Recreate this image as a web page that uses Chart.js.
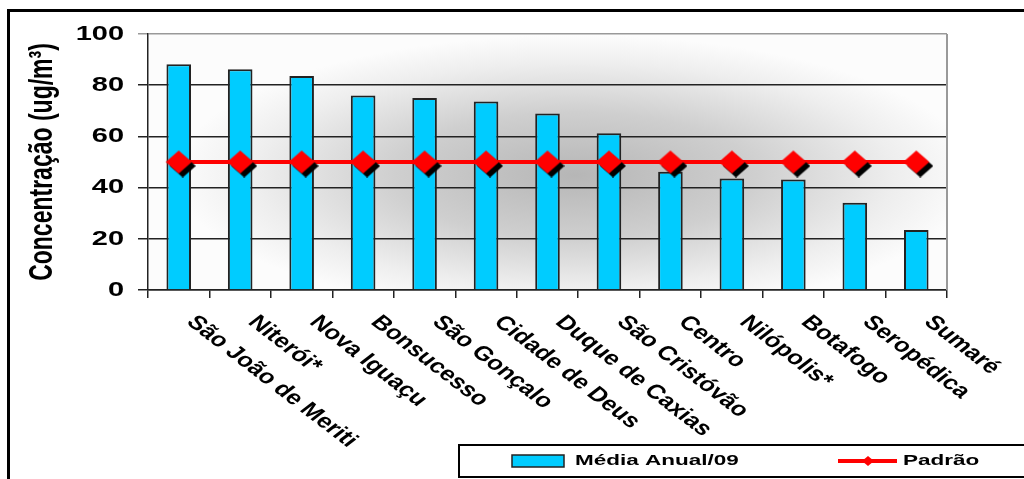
<!DOCTYPE html>
<html>
<head>
<meta charset="utf-8">
<script src="https://cdn.jsdelivr.net/npm/chart.js@4/dist/chart.umd.min.js"></script>
<style>
  body { margin: 0; background: #fff; }
  canvas { display: block; }
</style>
</head>
<body>
<canvas id="chart" width="1024" height="479"></canvas>
<script>
// stations, ordered as in the figure
var stations = ["São João de Meriti", "Niterói*", "Nova Iguaçu", "Bonsucesso", "São Gonçalo",
  "Cidade de Deus", "Duque de Caxias", "São Cristóvão", "Centro", "Nilópolis*",
  "Botafogo", "Seropédica", "Sumaré"];
// annual mean 2009 (ug/m3)
var mediaAnual = [88.2, 86.2, 83.6, 76.0, 75.0, 73.6, 68.9, 61.2, 46.2, 43.6, 43.2, 34.1, 23.4];
// standard (padrão) line
var padrao = [50, 50, 50, 50, 50, 50, 50, 50, 50, 50, 50, 50, 50];
var yTicks = [0, 20, 40, 60, 80, 100];
var yTitle = "Concentração (ug/m³)";
var legendBar = "Média Anual/09";
var legendLine = "Padrão";

var FONT = '"Liberation Sans", Arial, sans-serif';

// red diamond with hard black shadow, a bit wider than tall like the original
function diamondMarker(hw, hh, off) {
  var c = document.createElement('canvas');
  c.width = 2 * (hw + off);
  c.height = 2 * (hh + off);
  var g = c.getContext('2d');
  var cx = c.width / 2, cy = c.height / 2;
  function dia(x, y, col) {
    g.fillStyle = col;
    g.beginPath();
    g.moveTo(x, y - hh);
    g.lineTo(x + hw, y);
    g.lineTo(x, y + hh);
    g.lineTo(x - hw, y);
    g.closePath();
    g.fill();
  }
  dia(cx + off, cy + off, '#000');
  dia(cx, cy, '#ff0000');
  return c;
}
var marker = diamondMarker(13, 11.5, 4);

// text helper: the original picture is stretched horizontally
function stretchedText(ctx, txt, x, y, sx, rot, font, align, base) {
  ctx.save();
  ctx.translate(x, y);
  ctx.scale(sx, 1);
  if (rot) ctx.rotate(rot);
  ctx.font = font;
  ctx.textAlign = align;
  ctx.textBaseline = base;
  ctx.fillStyle = '#000';
  ctx.fillText(txt, 0, 0);
  ctx.restore();
}

var decorPlugin = {
  id: 'decor',
  beforeDraw: function(chart) {
    var ctx = chart.ctx, a = chart.chartArea;
    ctx.save();
    ctx.fillStyle = '#fff';
    ctx.fillRect(0, 0, chart.width, chart.height);
    // shaded plot background
    ctx.beginPath();
    ctx.rect(a.left, a.top, a.right - a.left, a.bottom - a.top);
    ctx.clip();
    var cx = 575, cy = 175, rx = 400, ry = 140;
    ctx.translate(cx, cy);
    ctx.scale(rx / ry, 1);
    var grd = ctx.createRadialGradient(0, 0, 0, 0, 0, ry);
    grd.addColorStop(0, '#b6b6b6');
    grd.addColorStop(0.45, '#cfcfcf');
    grd.addColorStop(0.8, '#eeeeee');
    grd.addColorStop(1, '#fcfcfc');
    ctx.fillStyle = '#fcfcfc';
    ctx.fillRect(-2000, -2000, 4000, 4000);
    ctx.fillStyle = grd;
    ctx.fillRect(-ry * 3, -ry * 3, ry * 6, ry * 6);
    ctx.restore();
  },
  afterDraw: function(chart) {
    var ctx = chart.ctx, a = chart.chartArea;
    var xs = chart.scales.x, ys = chart.scales.y;
    ctx.save();
    // right edge of plot
    ctx.strokeStyle = '#999';
    ctx.lineWidth = 2;
    ctx.beginPath();
    ctx.moveTo(a.right, a.top);
    ctx.lineTo(a.right, a.bottom);
    ctx.stroke();

    // y tick labels
    yTicks.forEach(function(v) {
      stretchedText(ctx, String(v), 124, ys.getPixelForValue(v), 1.38, 0,
        'bold 21px ' + FONT, 'right', 'middle');
    });
    // y title
    stretchedText(ctx, yTitle, 52, (a.top + a.bottom) / 2, 1.45, -Math.PI / 2,
      'bold 23px ' + FONT, 'center', 'alphabetic');
    // category labels, slanted
    stations.forEach(function(s, i) {
      stretchedText(ctx, s, xs.getPixelForValue(i) + 21, 312, 1.3, Math.PI / 4,
        'bold 20px ' + FONT, 'left', 'top');
    });

    // legend box
    ctx.strokeStyle = '#000';
    ctx.lineWidth = 2;
    ctx.strokeRect(459, 445, 600, 32);
    ctx.fillStyle = '#00ccff';
    ctx.fillRect(512, 455, 52, 12);
    ctx.strokeStyle = '#222';
    ctx.lineWidth = 1.5;
    ctx.strokeRect(512, 455, 52, 12);
    stretchedText(ctx, legendBar, 575, 461, 1.5, 0, 'bold 15px ' + FONT, 'left', 'middle');
    ctx.strokeStyle = '#ff0000';
    ctx.lineWidth = 4;
    ctx.beginPath();
    ctx.moveTo(838, 461);
    ctx.lineTo(897, 461);
    ctx.stroke();
    ctx.fillStyle = '#ff0000';
    ctx.beginPath();
    ctx.moveTo(868, 456); ctx.lineTo(874, 461); ctx.lineTo(868, 466); ctx.lineTo(862, 461);
    ctx.closePath();
    ctx.fill();
    stretchedText(ctx, legendLine, 903, 461, 1.5, 0, 'bold 15px ' + FONT, 'left', 'middle');

    // outer frame
    ctx.strokeStyle = '#000';
    ctx.lineWidth = 3;
    ctx.beginPath();
    ctx.moveTo(8.5, 490);
    ctx.lineTo(8.5, 10.5);
    ctx.lineTo(1030, 10.5);
    ctx.stroke();
    ctx.restore();
  }
};

new Chart(document.getElementById('chart'), {
  type: 'bar',
  data: {
    labels: stations,
    datasets: [{
      label: legendBar,
      data: mediaAnual,
      backgroundColor: '#00ccff',
      borderColor: '#222',
      borderWidth: 2,
      barPercentage: 0.4,
      categoryPercentage: 1,
      order: 3
    }, {
      type: 'line',
      label: legendLine,
      data: padrao,
      borderColor: '#ff0000',
      borderWidth: 4,
      pointRadius: 0,
      fill: false,
      order: 2
    }, {
      type: 'line',
      label: legendLine + ' markers',
      data: padrao,
      showLine: false,
      pointStyle: marker,
      pointRadius: 12,
      order: 1
    }]
  },
  options: {
    responsive: false,
    animation: false,
    layout: { padding: { left: 0, right: 77, top: 34, bottom: 0 } },
    plugins: { legend: { display: false }, tooltip: { enabled: false } },
    scales: {
      x: {
        offset: true,
        grid: { offset: true, drawOnChartArea: false, drawTicks: true, tickLength: 8, color: '#222', lineWidth: 1.5 },
        border: { display: true, color: '#222', width: 1.5 },
        ticks: { display: false },
        afterFit: function(s) { s.height = 479 - 290; }
      },
      y: {
        min: 0, max: 100,
        ticks: { display: false, stepSize: 20 },
        grid: {
          tickLength: 10,
          lineWidth: 1.5,
          color: function(c) { return c.tick && c.tick.value === 100 ? '#999' : '#222'; }
        },
        border: { display: true, color: '#222', width: 1.5 },
        afterFit: function(s) { s.width = 148; }
      }
    }
  },
  plugins: [decorPlugin]
});
</script>
</body>
</html>
